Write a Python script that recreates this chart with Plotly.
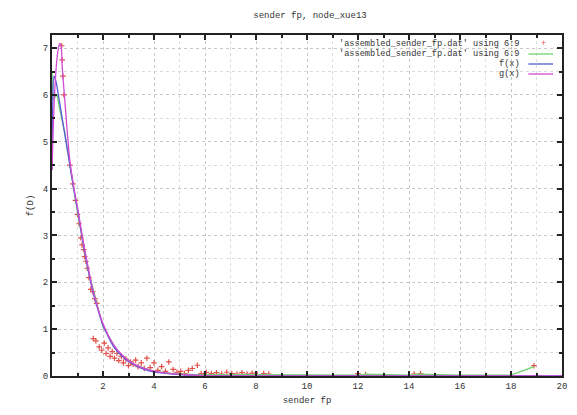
import plotly.graph_objects as go

# ---------------- data ----------------
pts_x = [0.38, 0.40, 0.43, 0.47, 0.70, 0.82, 0.92, 1.00, 1.06, 1.13, 1.18, 1.24, 1.28, 1.33,
         1.38, 1.45, 1.52, 1.60, 1.68, 1.76, 1.62, 1.72, 1.85, 1.95, 2.05, 2.12, 2.20, 2.28,
         2.36, 2.45, 2.55, 2.62, 2.72, 2.80, 2.90, 3.00, 3.08, 3.18, 3.28, 3.38, 3.50, 3.62,
         3.72, 3.85, 4.00, 4.15, 4.30, 4.45, 4.58, 4.75, 4.90, 5.05, 5.20, 5.35, 5.50, 5.70,
         5.85, 6.05, 6.25, 6.45, 6.65, 6.85, 7.05, 7.25, 7.45, 7.65, 7.85, 8.05, 8.30, 8.50,
         12.0, 12.3, 14.2, 14.45, 18.9]
pts_y = [7.05, 6.75, 6.40, 6.00, 4.50, 4.10, 3.75, 3.45, 3.25, 2.95, 2.80, 2.70, 2.55, 2.45,
         2.30, 2.10, 1.85, 1.80, 1.65, 1.55, 0.80, 0.75, 0.62, 0.55, 0.70, 0.48, 0.60, 0.42,
         0.52, 0.38, 0.48, 0.33, 0.42, 0.28, 0.36, 0.22, 0.30, 0.25, 0.34, 0.20, 0.28, 0.16,
         0.38, 0.18, 0.28, 0.12, 0.20, 0.10, 0.30, 0.14, 0.08, 0.10, 0.05, 0.12, 0.16, 0.23,
         0.05, 0.08, 0.05, 0.07, 0.04, 0.08, 0.05, 0.04, 0.07, 0.04, 0.06, 0.03, 0.05, 0.04,
         0.05, 0.03, 0.04, 0.05, 0.22]

green_x = [0.0, 0.02, 0.20, 0.30, 0.50, 0.70, 1.00, 1.40, 2.00, 2.60, 3.20, 4.00, 4.80,
           5.60, 6.50, 8.00, 10.0, 12.0, 12.3, 14.0, 14.4, 16.0, 18.0, 18.9]
green_y = [6.50, 5.90, 6.00, 5.70, 5.20, 4.50, 3.50, 2.30, 1.05, 0.50, 0.25, 0.10, 0.05,
           0.03, 0.03, 0.02, 0.02, 0.02, 0.04, 0.02, 0.04, 0.02, 0.02, 0.20]

f_x = [0.0, 0.03, 0.08, 0.15, 0.25, 0.40, 0.55, 0.70, 0.85, 1.00, 1.20, 1.40, 1.60, 1.80,
       2.00, 2.20, 2.40, 2.70, 3.00, 3.40, 3.80, 4.20, 5.00, 6.00, 8.00, 20.0]
f_y = [4.40, 5.80, 6.40, 6.30, 6.00, 5.50, 5.00, 4.50, 4.00, 3.55, 2.90, 2.32, 1.80, 1.42,
       1.08, 0.85, 0.64, 0.45, 0.31, 0.19, 0.11, 0.07, 0.03, 0.01, 0.00, 0.00]

g_x = [0.0, 0.05, 0.10, 0.20, 0.30, 0.35, 0.40, 0.50, 0.60, 0.70, 0.85, 1.00, 1.20, 1.40,
       1.60, 1.80, 2.00, 2.40, 2.80, 3.20, 3.80, 4.50, 5.50, 7.00, 20.0]
g_y = [4.40, 5.30, 6.00, 6.80, 7.10, 7.05, 6.60, 5.90, 5.20, 4.60, 4.05, 3.60, 2.95, 2.37,
       1.85, 1.45, 1.12, 0.68, 0.42, 0.26, 0.13, 0.06, 0.02, 0.00, 0.00]

x_ticks = [2, 4, 6, 8, 10, 12, 14, 16, 18, 20]
y_ticks = [0, 1, 2, 3, 4, 5, 6, 7]

legend_labels = ["'assembled_sender_fp.dat' using 6:9",
                 "'assembled_sender_fp.dat' using 6:9",
                 "f(x)", "g(x)"]

c_red = "#e0504a"
c_green = "#6fd46f"
c_blue = "#5a5ad6"
c_mag = "#d24ad2"

FONT = "Liberation Mono"

fig = go.Figure()
fig.add_trace(go.Scatter(x=pts_x, y=pts_y, mode="markers",
                         marker=dict(symbol="cross-thin", size=4, color=c_red,
                                     line=dict(color=c_red, width=1.2)),
                         name=legend_labels[0]))
fig.add_trace(go.Scatter(x=green_x, y=green_y, mode="lines",
                         line=dict(color=c_green, width=1.3), name=legend_labels[1]))
fig.add_trace(go.Scatter(x=f_x, y=f_y, mode="lines", line_shape="spline",
                         line=dict(color=c_blue, width=1.3), name=legend_labels[2]))
fig.add_trace(go.Scatter(x=g_x, y=g_y, mode="lines", line_shape="spline",
                         line=dict(color=c_mag, width=1.3), name=legend_labels[3]))

# gnuplot-style key: right-aligned text, sample on the right
key_colors = [c_red, c_green, c_blue, c_mag]
key_rows = [44, 54, 64, 74]  # pixel rows
for i, lab in enumerate(legend_labels):
    yy = (376 - key_rows[i]) / (376 - 35)
    fig.add_annotation(text=lab, xref="paper", yref="paper",
                       x=(527 - 52) / (567 - 52), y=yy,
                       xanchor="right", yanchor="middle", showarrow=False,
                       font=dict(family=FONT, size=8.6, color="#333"))
    if i == 0:
        fig.add_annotation(text="+", xref="paper", yref="paper",
                           x=(548 - 52) / (567 - 52), y=yy,
                           xanchor="center", yanchor="middle", showarrow=False,
                           font=dict(family=FONT, size=8.6, color=c_red))
    else:
        fig.add_shape(type="line", xref="paper", yref="paper",
                      x0=(533 - 52) / (567 - 52), x1=(558 - 52) / (567 - 52), y0=yy, y1=yy,
                      line=dict(color=key_colors[i], width=1.3))

axis_common = dict(showline=True, linecolor="#222", linewidth=2, mirror="ticks",
                   ticks="inside", ticklen=5, tickcolor="#222", tickwidth=1.5,
                   showgrid=True, gridcolor="#c8c8c8", griddash="dot", gridwidth=1,
                   zeroline=False,
                   tickfont=dict(family=FONT, size=9, color="#333"))

fig.update_xaxes(range=[0, 20], tickvals=x_ticks, ticktext=[str(v) for v in x_ticks],
                 minor=dict(dtick=1, ticks="inside", ticklen=3, tickcolor="#222",
                            showgrid=True, gridcolor="#dcdcdc", griddash="dot"),
                 title=dict(text="sender fp", standoff=6,
                            font=dict(family=FONT, size=9, color="#333")),
                 **axis_common)
fig.update_yaxes(range=[0, 7.28], tickvals=y_ticks, ticktext=[str(v) for v in y_ticks],
                 minor=dict(dtick=0.5, ticks="inside", ticklen=3, tickcolor="#222",
                            showgrid=True, gridcolor="#dcdcdc", griddash="dot"),
                 title=dict(text="f(D)", standoff=8,
                            font=dict(family=FONT, size=9, color="#333")),
                 **axis_common)

fig.update_layout(
    width=577, height=415,
    margin=dict(l=52, r=10, t=35, b=39),
    paper_bgcolor="white", plot_bgcolor="white",
    showlegend=False,
    title=dict(text="sender fp, node_xue13", x=(310) / 577, xanchor="center",
               y=1 - 15 / 415, yanchor="middle",
               font=dict(family=FONT, size=9, color="#333")),
)

fig.write_html("out.html")
